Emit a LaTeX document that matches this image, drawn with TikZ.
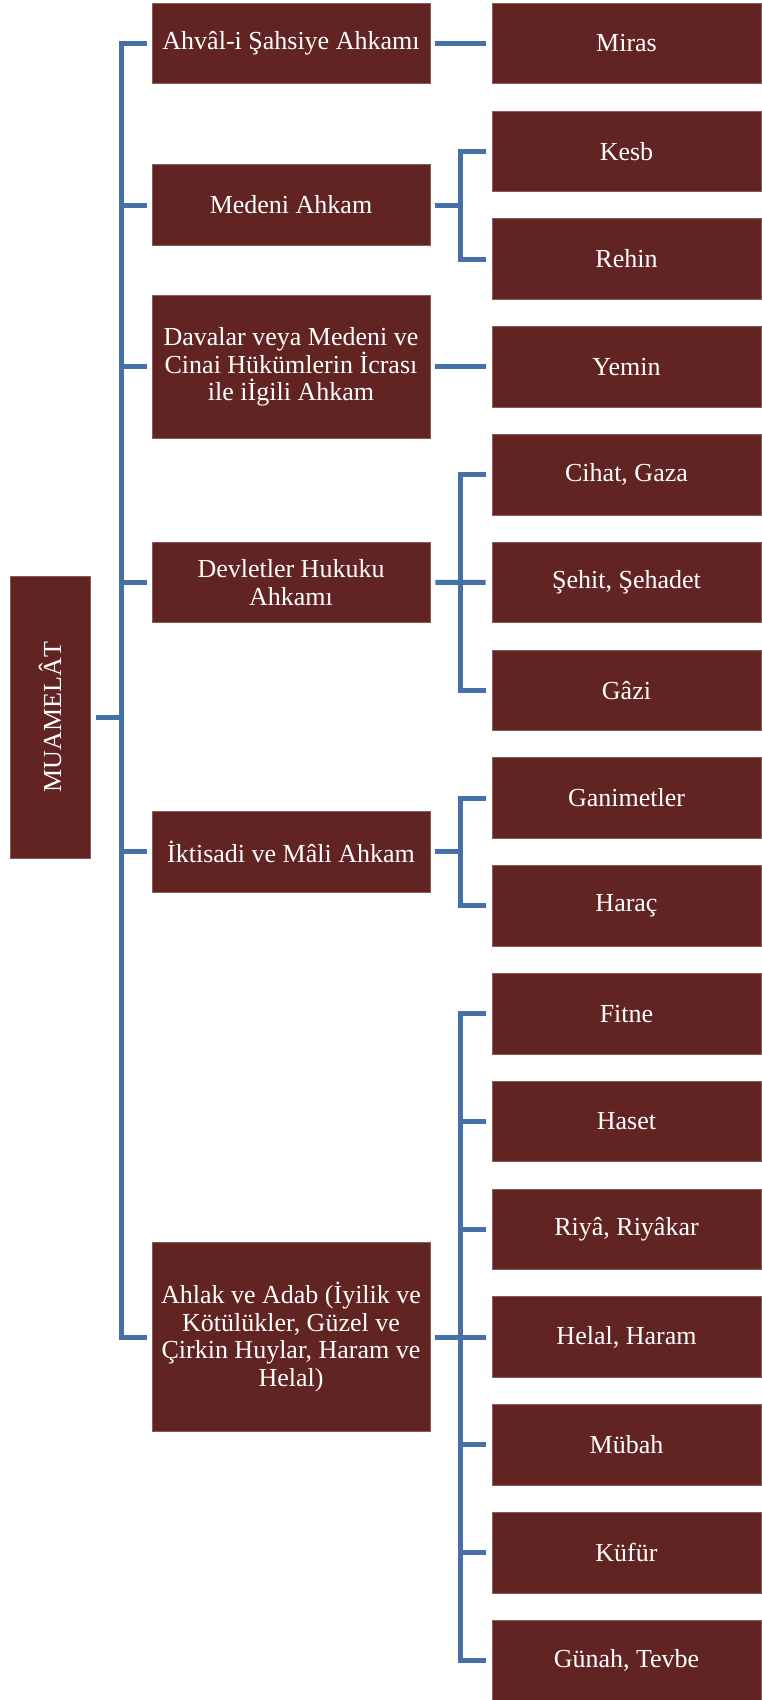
\documentclass[tikz,border=0pt]{standalone}
\usepackage{fontspec}
\setmainfont{Liberation Serif}
\definecolor{boxred}{HTML}{622423}
\definecolor{lineblue}{HTML}{4670A8}
\tikzset{
  box/.style={fill=boxred, draw=boxred!75!white, line width=0.6pt, text=white,
    inner sep=0pt, align=center, font=\fontsize{26}{27.5}\selectfont},
  midbox/.style={box, minimum width=278pt, minimum height=80.7pt},
  leafbox/.style={box, minimum width=269pt, minimum height=80.7pt},
  conn/.style={draw=lineblue, line width=5pt, line join=miter}
}
\begin{document}
\begin{tikzpicture}[x=1pt,y=-1pt]
\useasboundingbox (0,0) rectangle (761,1700);
% root
\node[box, minimum width=80pt, minimum height=282pt] (root) at (50,717) {\rotatebox{90}{MUAMELÂT}};
% middle level
\node[midbox] (m1) at (291,43.4) {Ahvâl-i Şahsiye Ahkamı};
\node[midbox] (m2) at (291,205.1) {Medeni Ahkam};
\node[midbox, minimum height=143pt] (m3) at (291,366.8) {Davalar veya Medeni ve\\Cinai Hükümlerin İcrası\\ile iİgili Ahkam};
\node[midbox] (m4) at (291,582.4) {Devletler Hukuku\\Ahkamı};
\node[midbox] (m5) at (291,851.9) {İktisadi ve Mâli Ahkam};
\node[midbox, minimum height=189pt] (m6) at (291,1337) {Ahlak ve Adab (İyilik ve\\Kötülükler, Güzel ve\\Çirkin Huylar, Haram ve\\Helal)};
% leaves
\foreach \nm/\txt [count=\k from 0] in {r1/Miras, r2/Kesb, r3/Rehin, r4/Yemin, r5/{Cihat, Gaza}, r6/{Şehit, Şehadet}, r7/Gâzi, r8/Ganimetler, r9/Haraç, r10/Fitne, r11/Haset, r12/{Riyâ, Riyâkar}, r13/{Helal, Haram}, r14/Mübah, r15/Küfür, r16/{Günah, Tevbe}}
  \node[leafbox] (\nm) at (626.5, 43.4+107.8*\k) {\txt};
% bus coordinates
\coordinate (bus) at (121,0);
\coordinate (jx) at (460,0);
% root to bus
\draw[conn] ([xshift=6pt]root.east) -- (bus |- root.east);
\draw[conn] ([xshift=-5pt]m1.west) -- (bus |- m1.west) -- (bus |- m6.west) -- ([xshift=-5pt]m6.west);
\foreach \m in {m2,m3,m4,m5}
  \draw[conn] (bus |- \m.west) -- ([xshift=-5pt]\m.west);
% single children
\draw[conn] ([xshift=5pt]m1.east) -- ([xshift=-6pt]r1.west);
\draw[conn] ([xshift=5pt]m3.east) -- ([xshift=-6pt]r4.west);
% group m2
\draw[conn] ([xshift=5pt]m2.east) -- (jx |- m2.east);
\draw[conn] ([xshift=-6pt]r2.west) -- (jx |- r2.west) -- (jx |- r3.west) -- ([xshift=-6pt]r3.west);
% group m4
\draw[conn] ([xshift=5pt]m4.east) -- ([xshift=-6pt]r6.west);
\draw[conn] ([xshift=-6pt]r5.west) -- (jx |- r5.west) -- (jx |- r7.west) -- ([xshift=-6pt]r7.west);
% group m5
\draw[conn] ([xshift=5pt]m5.east) -- (jx |- m5.east);
\draw[conn] ([xshift=-6pt]r8.west) -- (jx |- r8.west) -- (jx |- r9.west) -- ([xshift=-6pt]r9.west);
% group m6
\draw[conn] ([xshift=5pt]m6.east) -- (jx |- m6.east);
\draw[conn] ([xshift=-6pt]r10.west) -- (jx |- r10.west) -- (jx |- r16.west) -- ([xshift=-6pt]r16.west);
\foreach \r in {r11,r12,r13,r14,r15}
  \draw[conn] (jx |- \r.west) -- ([xshift=-6pt]\r.west);
\end{tikzpicture}
\end{document}
